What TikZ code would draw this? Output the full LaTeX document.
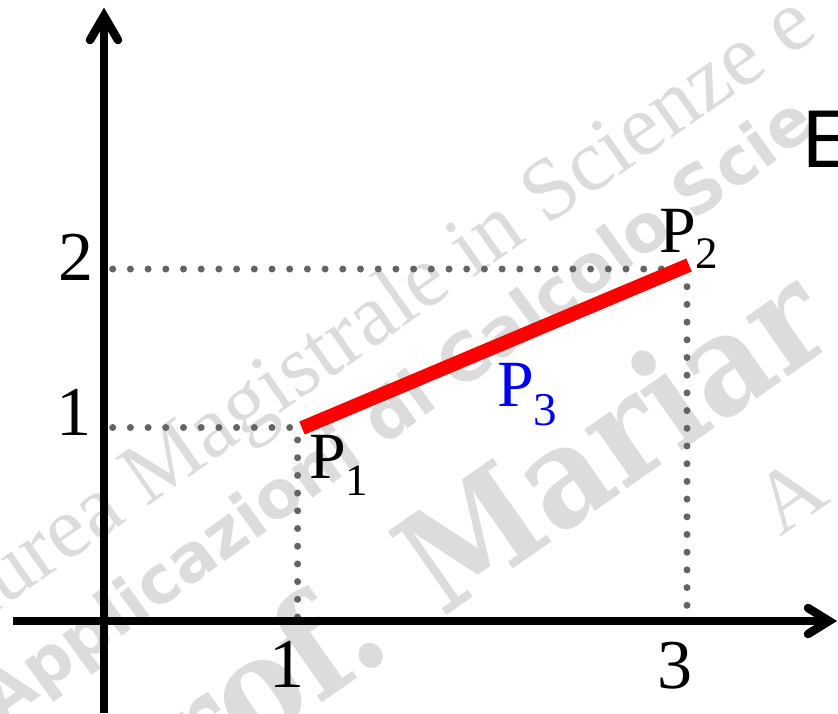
\documentclass[tikz,border=0pt]{standalone}
\usepackage{fontspec}
\setmainfont{Liberation Serif}
\newfontfamily\wmtimes{Liberation Serif}
\newfontfamily\wmsans{DejaVu Sans}
\newfontfamily\wmserif{DejaVu Serif Condensed}
\newfontfamily\labsans{Liberation Sans}
\definecolor{wmgray}{RGB}{220,220,220}
\definecolor{dotgray}{RGB}{100,100,100}
\definecolor{ptblue}{RGB}{0,0,255}
\begin{document}
\begin{tikzpicture}[x=1pt,y=-1pt,
  wm/.style={text=wmgray, inner sep=0pt, outer sep=0pt, anchor=base west},
  dotline/.style={draw=dotgray, line width=7pt, line cap=round, dash pattern=on 0pt off 17.7pt},
  axisline/.style={line width=8.5pt, draw=black},
  tipline/.style={line width=8.5pt, draw=black, line cap=round, line join=miter},
  ticklab/.style={inner sep=0pt, outer sep=0pt, anchor=base, font=\wmtimes\fontsize{70}{70}\selectfont},
  plab/.style={inner sep=0pt, outer sep=0pt, anchor=base west, font=\wmtimes\fontsize{66}{66}\selectfont}]
\useasboundingbox (0,0) rectangle (838,713);
\clip (0,0) rectangle (838,713);

% watermark
\node[wm, rotate=35, font=\wmtimes\fontsize{88}{88}\selectfont] (wm1) at (-72,660) {Laurea Magistrale in Scienze e};
\node[wm, rotate=36, font=\wmsans\bfseries\fontsize{66}{66}\selectfont] (wm2) at (0,725) {Applicazioni di Calcolo Scie};
\node[wm, rotate=35, font=\wmserif\bfseries\fontsize{140}{140}\selectfont] (wm3) at (118,846) {Prof. Mariar};
\node[wm, rotate=35, font=\wmtimes\fontsize{88}{88}\selectfont] (wm4) at (780,537) {A};

% reference points
\coordinate (O) at (104,621);
\coordinate (X1) at (297.6,621);
\coordinate (X3) at (687,621);
\coordinate (Y1) at (104,427.5);
\coordinate (Y2) at (104,269);
\coordinate (A) at (302,428);
\coordinate (B) at (689,265);

% dotted guides
\draw[dotline] (112.7,269) -- (687,269);
\draw[dotline] (112.7,427.5) -- (297.6,427.5);
\draw[dotline] (297.6,440) -- (X1);
\draw[dotline] (687,269) -- (X3);

% axes
\coordinate (yb) at (104,713);
\coordinate (yt) at (104,16);
\coordinate (yl) at (90,40);
\coordinate (yr) at (118,40);
\coordinate (xl) at (13,621);
\coordinate (xt) at (829,621);
\coordinate (xu) at (808,608);
\coordinate (xd) at (808,634);
\draw[axisline] (yb) -- (yt);
\draw[tipline] (yl) -- (yt) -- (yr);
\draw[axisline] (xl) -- (xt);
\draw[tipline] (xu) -- (xt) -- (xd);

% segment
\draw[red, line width=14pt] (A) -- (B);

% tick labels
\node[ticklab] (t2) at (76,280) {2};
\node[ticklab] (t1) at (74,435) {1};
\node[ticklab] (s1) at (287,687) {1};
\node[ticklab] (s3) at (675,688) {3};

% point labels
\node[plab] (p1) at (309,478) {P\raisebox{-17pt}{\fontsize{45}{45}\selectfont 1}};
\node[plab] (p2) at (659,252) {P\raisebox{-16pt}{\fontsize{45}{45}\selectfont 2}};
\node[plab, text=ptblue] (p3) at (497,406) {P\raisebox{-19pt}{\fontsize{47}{47}\selectfont 3}};

\node[anchor=base west, inner sep=0pt, font=\labsans\fontsize{82}{82}\selectfont] (e) at (802,167) {E};
\end{tikzpicture}
\end{document}
